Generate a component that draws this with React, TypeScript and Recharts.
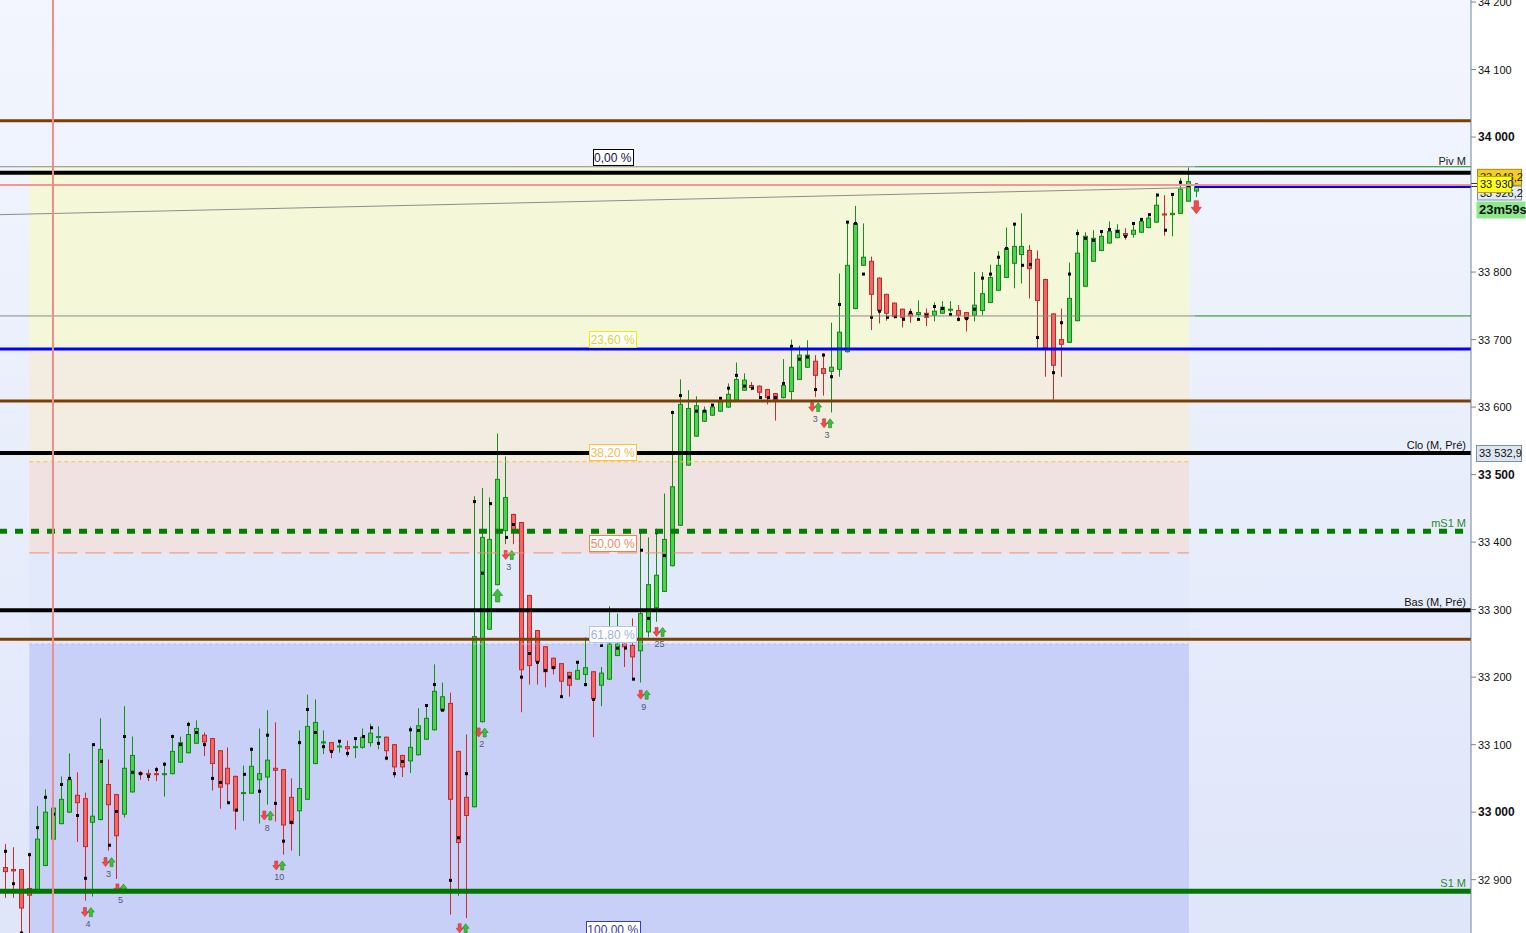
import React from 'react';
import {
  ComposedChart,
  Bar,
  Scatter,
  XAxis,
  YAxis,
  ReferenceLine,
  ReferenceArea,
  ReferenceDot,
} from 'recharts';

// bougies, index 0..150
const opens = [
  32918, 32915, 32915, 32887, 32885, 32921, 32960, 32983, 33000, 33025,
  33020, 32985, 32989, 33041, 33026, 32997, 33030, 33058, 33057, 33057,
  33056, 33057, 33074, 33088, 33102, 33114, 33109, 33091, 33065, 33053,
  33028, 33028, 33048, 33052, 33065, 33063, 33022, 33002, 33019, 33072,
  33103, 33103, 33097, 33097, 33096, 33096, 33103, 33111, 33111, 33100,
  33084, 33076, 33085, 33108, 33122, 33151, 33161, 33090, 33022, 33008,
  33134, 33271, 33337, 33417, 33441, 33429, 33321, 33269, 33245, 33228,
  33220, 33207, 33197, 33204, 33208, 33188, 33197, 33232, 33249, 33247,
  33239, 33267, 33303, 33327, 33365, 33425, 33514, 33557, 33579, 33588,
  33594, 33600, 33610, 33625, 33632, 33631, 33626, 33620, 33614, 33623,
  33641, 33659, 33668, 33657, 33653, 33656, 33682, 33746, 33810, 33816,
  33791, 33767, 33754, 33745, 33739, 33737, 33739, 33736, 33739, 33744,
  33743, 33740, 33736, 33743, 33755, 33773, 33792, 33813, 33826, 33832,
  33819, 33789, 33738, 33700, 33696, 33728, 33779, 33816, 33832, 33843,
  33851, 33857, 33856, 33859, 33866, 33874, 33886, 33885, 33887, 33905,
  33920,
];
const highs = [
  32953, 32948, 32916, 32940, 33009, 33034, 33033, 33053, 33087, 33059,
  33029, 33100, 33139, 33078, 33027, 33157, 33112, 33061, 33063, 33067,
  33074, 33115, 33112, 33134, 33136, 33118, 33110, 33092, 33096, 33054,
  33069, 33096, 33124, 33151, 33133, 33064, 33050, 33121, 33174, 33167,
  33121, 33104, 33105, 33106, 33111, 33124, 33131, 33127, 33112, 33101,
  33085, 33127, 33154, 33158, 33219, 33192, 33177, 33091, 33115, 33468,
  33480, 33466, 33561, 33527, 33442, 33430, 33322, 33270, 33246, 33229,
  33221, 33208, 33223, 33259, 33209, 33215, 33305, 33294, 33250, 33287,
  33415, 33407, 33420, 33472, 33595, 33641, 33625, 33616, 33601, 33601,
  33613, 33635, 33666, 33650, 33637, 33632, 33627, 33621, 33671, 33700,
  33691, 33699, 33677, 33680, 33725, 33798, 33875, 33898, 33872, 33823,
  33792, 33768, 33755, 33746, 33746, 33758, 33746, 33755, 33757, 33757,
  33751, 33741, 33800, 33800, 33811, 33831, 33866, 33871, 33887, 33840,
  33832, 33790, 33739, 33746, 33814, 33863, 33859, 33862, 33862, 33875,
  33871, 33865, 33872, 33880, 33887, 33917, 33914, 33917, 33939, 33955,
  33931,
];
const lows = [
  32873, 32873, 32803, 32815, 32884, 32920, 32959, 32982, 32999, 32956,
  32869, 32875, 32988, 32943, 32901, 32992, 33029, 33048, 33046, 33046,
  33023, 33056, 33073, 33087, 33101, 33083, 33032, 33005, 33012, 32974,
  32987, 33027, 32983, 33011, 32986, 32937, 32943, 32935, 33018, 33071,
  33086, 33080, 33088, 33082, 33080, 33094, 33097, 33093, 33077, 33051,
  33052, 33058, 33084, 33107, 33121, 33150, 32848, 32876, 32843, 33007,
  33133, 33270, 33336, 33397, 33397, 33148, 33189, 33189, 33185, 33204,
  33171, 33171, 33196, 33186, 33111, 33157, 33196, 33231, 33215, 33197,
  33192, 33259, 33282, 33326, 33364, 33424, 33513, 33556, 33578, 33587,
  33593, 33599, 33609, 33624, 33625, 33614, 33604, 33580, 33613, 33610,
  33640, 33658, 33615, 33617, 33592, 33645, 33681, 33745, 33809, 33714,
  33724, 33728, 33731, 33718, 33725, 33734, 33720, 33727, 33738, 33740,
  33727, 33712, 33727, 33736, 33754, 33772, 33791, 33776, 33783, 33761,
  33688, 33645, 33611, 33645, 33695, 33727, 33778, 33815, 33831, 33842,
  33850, 33848, 33851, 33858, 33865, 33873, 33854, 33853, 33886, 33904,
  33911,
];
const closes = [
  32912, 32913, 32858, 32877, 32960, 33000, 33006, 33019, 33048, 33014,
  32949, 32994, 33093, 33011, 32965, 33065, 33084, 33057, 33056, 33056,
  33057, 33090, 33103, 33115, 33124, 33104, 33072, 33037, 33042, 33002,
  33029, 33068, 33057, 33077, 33062, 32981, 32983, 33035, 33127, 33133,
  33104, 33091, 33098, 33094, 33097, 33111, 33117, 33112, 33091, 33067,
  33067, 33096, 33128, 33139, 33179, 33171, 33019, 32955, 32995, 33260,
  33407, 33404, 33493, 33466, 33417, 33211, 33217, 33223, 33208, 33213,
  33194, 33188, 33210, 33214, 33168, 33206, 33249, 33249, 33245, 33230,
  33294, 33337, 33351, 33404, 33482, 33604, 33598, 33602, 33595, 33600,
  33608, 33619, 33641, 33640, 33629, 33622, 33614, 33611, 33632, 33659,
  33677, 33677, 33647, 33650, 33659, 33711, 33810, 33872, 33822, 33767,
  33743, 33739, 33734, 33733, 33735, 33740, 33733, 33742, 33748, 33745,
  33736, 33731, 33751, 33768, 33792, 33810, 33835, 33838, 33838, 33805,
  33758, 33688, 33662, 33693, 33761, 33828, 33853, 33850, 33853, 33860,
  33862, 33854, 33862, 33875, 33880, 33899, 33885, 33887, 33923, 33934,
  33926,
];
// petits carrés noirs (null = pas de point)
const markers = [
  32942, 32894, 32821, 32937, 32977, 33022, 32997, 33041, 33050, 32995,
  32902, 33100, 33075, 32951, 33001, 33112, 33059, 33057, 33053, 33063,
  33071, 33112, 33100, 33130, 33118, 33100, 33050, 33044, 33014, 33003,
  33056, 33093, 33031, 33114, 33013, 32957, 32985, 33103, 33152, 33118,
  33097, 33090, 33105, 33087, 33109, 33112, 33125, 33102, 33080, 33057,
  33075, 33122, 33121, 33158, 33189, 33151, 32899, 32962, 33057, 33460,
  33354, 33457, null, 33407, 33426, 33200, 33235, 33222, 33210, 33214,
  33171, 33200, 33222, 33189, 33167, 33247, 33255, 33243, 33243, 33197,
  33388, 33287, 33414, 33380, 33592, 33617, null, 33594, 33594, 33603,
  33613, 33628, 33647, 33631, 33628, 33614, 33614, 33614, 33635, 33690,
  33671, 33674, 33626, 33677, 33645, 33752, 33874, 33872, 33797, 33733,
  33742, 33733, 33734, 33730, 33740, 33730, 33736, 33749, 33746, 33737,
  33730, 33731, 33745, 33791, 33797, 33822, 33835, 33871, 33810, 33811,
  33703, null, 33651, 33725, 33797, 33857, 33850, 33847, 33860, 33863,
  33860, 33853, 33872, 33878, 33885, 33914, 33862, 33915, 33933, 33927,
  33929,
];

// signaux (flèche rouge + flèche verte + compteur)
const signalIdx = [10.4, 13, 14.5, 33, 34.5, 57.6, 60, 63.4, 80.4, 82.4, 102, 103.5];
const signalPrice = [32852, 32926, 32887, 32995, 32921, 32828, 33118, 33381, 33174, 33267, 33600, 33576];
const signalCount = ['4', '3', '5', '8', '10', '', '2', '3', '9', '25', '3', '3'];

const bigArrowIdx = [62, 150];
const bigArrowPrice = [33321, 33896];
const bigArrowDir = ['up', 'down'];

// axe des prix
const yTicks = [32900, 33000, 33100, 33200, 33300, 33400, 33500, 33600, 33700, 33800, 34000, 34100, 34200];
const boldTicks = [33000, 33500, 34000];

// retracement de Fibonacci
const fibHigh = 33956;
const fibLow = 32812;
const fibRatios = [0, 0.236, 0.382, 0.5, 0.618, 1];
const fibLabels = ['0,00 %', '23,60 %', '38,20 %', '50,00 %', '61,80 %', '100,00 %'];
const fibFrom = 3.02;
const fibTo = 149.08;
const fibLabelAt = 76.5;

// niveaux horizontaux
const brownTop = 34024;
const pivM = 33956;
const highPrev = 33947;
const lastTick = 33929;
const lastClose = 33926;
const pivot2 = 33735;
const blueLevel = 33686;
const brownMid = 33609;
const closePrev = 33532;
const mS1 = 33416;
const lowPrev = 33299;
const brownLow = 33256;
const s1 = 32883;
const trendStart = { i: -0.67, p: 33885 };
const trendEnd = { i: 149.2, p: 33925 };
const lastBarEdge = 149.8;
const cursorIdx = 6;

const X_DOMAIN: [number, number] = [-0.67, 184.6];
const Y_DOMAIN: [number, number] = [32821, 34203];

const FONT = '"Liberation Sans", Arial, sans-serif';
const fibBorder = ['#000000', '#eeee00', '#ffbf3f', '#f5804f', '#b4c4f4', '#3a3ad0'];
const fibText = ['#10104a', '#d6d62e', '#f5bb4e', '#f08866', '#a2b0e0', '#3a3aa0'];
const fibFill = ['#f5f7d9', '#f3ede1', '#f1e2e2', '#e2e9fb', '#c9d0f8'];

const candles = opens.map((o, i) => ({ i, o, h: highs[i], l: lows[i], c: closes[i] }));
const markerData = markers
  .map((v, i) => ({ i, v }))
  .filter((d) => d.v !== null);
const signalData = signalIdx.map((i, k) => ({ i, v: signalPrice[k], n: signalCount[k] }));
const bigArrowData = bigArrowIdx.map((i, k) => ({ i, v: bigArrowPrice[k], dir: bigArrowDir[k] }));
const fibLevel = (r: number) => fibHigh - r * (fibHigh - fibLow);

const fmt = (v: number) => String(v).replace(/\B(?=(\d{3})+(?!\d))/g, ' ');

const Candle = (props: any) => {
  const { x, y, width, height, payload } = props;
  if (!payload || payload.h === payload.l) return null;
  const { o, h, l, c } = payload;
  const top = Math.min(y, y + height);
  const span = Math.abs(height);
  const py = (p: number) => top + ((h - p) / (h - l)) * span;
  const cx = Math.round(x + width / 2);
  const up = c >= o;
  const bodyTop = py(Math.max(o, c));
  const bodyH = Math.max(py(Math.min(o, c)) - bodyTop, 1);
  return (
    <g>
      <line
        x1={cx + 0.5}
        x2={cx + 0.5}
        y1={py(h)}
        y2={py(l)}
        stroke={up ? '#14901a' : '#d02a2a'}
        strokeWidth={1}
      />
      <rect
        x={cx - 1.5}
        y={bodyTop}
        width={4}
        height={bodyH}
        fill={up ? '#4fcf4f' : '#f26666'}
        stroke={up ? '#0f8a14' : '#c42828'}
        strokeWidth={1}
      />
    </g>
  );
};

const Marker = (props: any) => (
  <rect x={Math.round(props.cx) - 1} y={props.cy - 1.5} width={3} height={3} fill="#000" />
);

const arrowPath = (ax: number, ay: number, s: number, down: boolean) => {
  const d = down ? 1 : -1;
  return `M${ax - 1.5 * s},${ay - 4.5 * s * d} H${ax + 1.5 * s} V${ay} H${ax + 3.5 * s} L${ax},${ay + 4.5 * s * d} L${ax - 3.5 * s},${ay} H${ax - 1.5 * s} Z`;
};

const Signal = (props: any) => {
  const { cx, cy, payload } = props;
  return (
    <g>
      <path d={arrowPath(cx - 3, cy, 1, true)} fill="#f04a4a" stroke="#c83030" strokeWidth={0.6} />
      <path d={arrowPath(cx + 3, cy, 1, false)} fill="#3cc03c" stroke="#1a8a1a" strokeWidth={0.6} />
      <text x={cx} y={cy + 15} textAnchor="middle" fontSize={9} fill="#555577" fontFamily={FONT}>
        {payload.n}
      </text>
    </g>
  );
};

const BigArrow = (props: any) => {
  const { cx, cy, payload } = props;
  const down = payload.dir === 'down';
  return (
    <path
      d={arrowPath(cx, cy, 1.45, down)}
      fill={down ? '#f04a4a' : '#3cc03c'}
      stroke={down ? '#c83030' : '#1a8a1a'}
      strokeWidth={0.6}
    />
  );
};

const PriceTick = (props: any) => {
  const { x, y, payload } = props;
  const bold = boldTicks.includes(payload.value);
  return (
    <text
      x={x}
      y={y}
      dy={4}
      textAnchor="start"
      fontSize={bold ? 12 : 11}
      fontWeight={bold ? 700 : 400}
      fill="#111"
      fontFamily={FONT}
    >
      {fmt(payload.value)}
    </text>
  );
};

// texte au-dessus d'une ligne, calé à droite
const lineText = (text: string, color: string, lift: number) => (props: any) => {
  const vb = props.viewBox;
  return (
    <text x={vb.x + vb.width - 5} y={vb.y - lift} textAnchor="end" fontSize={11} fill={color} fontFamily={FONT}>
      {text}
    </text>
  );
};

const tagBox = (
  x: number,
  y: number,
  w: number,
  h: number,
  text: string,
  fill: string,
  stroke: string,
  bold = false,
) => (
  <g>
    <rect x={x + 0.5} y={y + 0.5} width={w} height={h} fill={fill} stroke={stroke} strokeWidth={stroke === 'none' ? 0 : 1} />
    <text
      x={x + 3}
      y={y + h / 2 + 4.5}
      fontSize={bold ? 13 : 11}
      fontWeight={bold ? 700 : 400}
      fill="#111"
      fontFamily={FONT}
    >
      {text}
    </text>
  </g>
);

const FibTag = (props: any) => {
  const { cx, cy, k } = props;
  const text = fibLabels[k];
  const w = text.length * 7 - 2;
  return (
    <g>
      <rect x={Math.round(cx - w / 2) + 0.5} y={Math.round(cy) - 17.5} width={w} height={16} fill="#fff" stroke={fibBorder[k]} />
      <text x={cx} y={cy - 5} textAnchor="middle" fontSize={12} fill={fibText[k]} fontFamily={FONT}>
        {text}
      </text>
    </g>
  );
};

export default function App() {
  return (
    <div
      style={{
        position: 'fixed',
        left: 0,
        top: 0,
        width: 1526,
        height: 933,
        background:
          'linear-gradient(to right, rgba(255,255,255,0) 1471px, #ffffff 1471px), linear-gradient(to bottom, #f3f6fe, #dfe6f9)',
        fontFamily: FONT,
      }}
    >
      <ComposedChart width={1526} height={933} data={candles} margin={{ top: 0, right: 0, left: 0, bottom: 0 }}>
        <XAxis dataKey="i" type="number" domain={X_DOMAIN} allowDataOverflow hide />
        <YAxis
          orientation="right"
          width={55}
          domain={Y_DOMAIN}
          allowDataOverflow
          ticks={yTicks}
          interval={0}
          tickSize={5}
          tick={<PriceTick />}
          axisLine={{ stroke: '#75869a' }}
          tickLine={{ stroke: '#75869a' }}
        />

        {/* zones de Fibonacci */}
        {fibFill.map((f, k) => (
          <ReferenceArea
            key={`z${k}`}
            x1={fibFrom}
            x2={fibTo}
            y1={fibLevel(fibRatios[k])}
            y2={fibLevel(fibRatios[k + 1])}
            fill={f}
            fillOpacity={1}
            stroke="none"
            ifOverflow="visible"
            zIndex={50}
          />
        ))}

        {/* bougies */}
        <Bar
          dataKey={(d: any) => [d.l, d.h]}
          shape={(p: any) => <Candle {...p} />}
          barSize={6}
          isAnimationActive={false}
          zIndex={300}
        />
        <Scatter data={markerData} dataKey="v" shape={(p: any) => <Marker {...p} />} isAnimationActive={false} zIndex={310} />
        <Scatter data={signalData} dataKey="v" shape={(p: any) => <Signal {...p} />} isAnimationActive={false} zIndex={320} />
        <Scatter data={bigArrowData} dataKey="v" shape={(p: any) => <BigArrow {...p} />} isAnimationActive={false} zIndex={320} />

        {/* lignes pointillées de Fibonacci */}
        <ReferenceLine
          segment={[{ x: fibFrom, y: fibLevel(0.382) }, { x: fibTo, y: fibLevel(0.382) }]}
          stroke="#ffbf3f"
          strokeDasharray="4 3"
          ifOverflow="visible"
          zIndex={440}
        />
        <ReferenceLine
          segment={[{ x: fibFrom, y: fibLevel(0.5) }, { x: fibTo, y: fibLevel(0.5) }]}
          stroke="#ea9272"
          strokeDasharray="20 8"
          ifOverflow="visible"
          zIndex={440}
        />
        <ReferenceLine
          segment={[{ x: fibFrom, y: fibLevel(0.618) }, { x: fibTo, y: fibLevel(0.618) }]}
          stroke="#a9bdf2"
          strokeDasharray="3 3"
          ifOverflow="visible"
          zIndex={440}
        />

        {/* niveaux */}
        <ReferenceLine y={brownTop} stroke="#7b3f00" strokeWidth={3} ifOverflow="visible" zIndex={450} />
        <ReferenceLine
          segment={[{ x: X_DOMAIN[0], y: pivM }, { x: lastBarEdge, y: pivM }]}
          stroke="#8a8a8a"
          strokeWidth={1}
          ifOverflow="visible"
          zIndex={450}
        />
        <ReferenceLine
          segment={[{ x: lastBarEdge, y: pivM }, { x: X_DOMAIN[1], y: pivM }]}
          stroke="#1a8a1a"
          strokeWidth={1}
          ifOverflow="visible"
          zIndex={450}
          label={lineText('Piv M', '#222', 2)}
        />
        <ReferenceLine
          segment={[{ x: trendStart.i, y: trendStart.p }, { x: trendEnd.i, y: trendEnd.p }]}
          stroke="#8c8c8c"
          strokeWidth={1}
          ifOverflow="visible"
          zIndex={450}
        />
        <ReferenceLine
          y={highPrev}
          stroke="#000"
          strokeWidth={4}
          ifOverflow="visible"
          zIndex={450}
          label={(p: any) => tagBox(p.viewBox.x + p.viewBox.width + 6, p.viewBox.y - 4, 44, 16, '33 948,2', '#f5cf1a', '#a88a00')}
        />
        <ReferenceLine
          segment={[{ x: lastBarEdge, y: lastClose }, { x: X_DOMAIN[1], y: lastClose }]}
          stroke="#0000ff"
          strokeWidth={2}
          ifOverflow="visible"
          zIndex={451}
          label={(p: any) => (
            <g>
              {tagBox(p.viewBox.x + p.viewBox.width + 6, p.viewBox.y - 1.5, 44, 14, '33 926,2', '#e3eaf7', '#7f8fa3')}
              {tagBox(p.viewBox.x + p.viewBox.width + 5, p.viewBox.y + 14, 49, 17, '23m59s', '#8de88d', 'none', true)}
            </g>
          )}
        />
        <ReferenceLine
          y={lastTick}
          stroke="#f39595"
          strokeWidth={2}
          ifOverflow="visible"
          zIndex={452}
          label={(p: any) => (
            <g>
              <line x1={p.viewBox.x + p.viewBox.width} x2={p.viewBox.x + p.viewBox.width + 6} y1={p.viewBox.y - 1.5} y2={p.viewBox.y - 1.5} stroke="#333" />
              <line x1={p.viewBox.x + p.viewBox.width} x2={p.viewBox.x + p.viewBox.width + 6} y1={p.viewBox.y + 1.5} y2={p.viewBox.y + 1.5} stroke="#333" />
              {tagBox(p.viewBox.x + p.viewBox.width + 6, p.viewBox.y - 9, 34, 16, '33 930', '#ffff22', '#b8a600')}
            </g>
          )}
        />
        <ReferenceLine
          segment={[{ x: X_DOMAIN[0], y: pivot2 }, { x: lastBarEdge, y: pivot2 }]}
          stroke="#8a8a8a"
          strokeWidth={1}
          ifOverflow="visible"
          zIndex={450}
        />
        <ReferenceLine
          segment={[{ x: lastBarEdge, y: pivot2 }, { x: X_DOMAIN[1], y: pivot2 }]}
          stroke="#1a8a1a"
          strokeWidth={1}
          ifOverflow="visible"
          zIndex={450}
        />
        <ReferenceLine y={blueLevel} stroke="#0000ff" strokeWidth={3} ifOverflow="visible" zIndex={450} />
        <ReferenceLine y={brownMid} stroke="#7b3f00" strokeWidth={3} ifOverflow="visible" zIndex={450} />
        <ReferenceLine
          y={closePrev}
          stroke="#000"
          strokeWidth={4}
          ifOverflow="visible"
          zIndex={450}
          label={(p: any) => (
            <g>
              {lineText('Clo (M, Pré)', '#111', 4)(p)}
              {tagBox(p.viewBox.x + p.viewBox.width + 5, p.viewBox.y - 8, 45, 16, '33 532,9', '#dde5f3', '#7f8fa3')}
            </g>
          )}
        />
        <ReferenceLine
          y={mS1}
          stroke="#007f00"
          strokeWidth={5}
          strokeDasharray="8 8"
          strokeDashoffset={8}
          ifOverflow="visible"
          zIndex={450}
          label={lineText('mS1 M', '#2a8a2a', 4)}
        />
        <ReferenceLine
          y={lowPrev}
          stroke="#000"
          strokeWidth={4}
          ifOverflow="visible"
          zIndex={450}
          label={lineText('Bas (M, Pré)', '#111', 4)}
        />
        <ReferenceLine y={brownLow} stroke="#7b3f00" strokeWidth={3} ifOverflow="visible" zIndex={450} />
        <ReferenceLine
          y={s1}
          stroke="#007800"
          strokeWidth={5}
          ifOverflow="visible"
          zIndex={450}
          label={lineText('S1 M', '#2a8a2a', 4)}
        />

        {/* curseur vertical */}
        <ReferenceLine x={cursorIdx} stroke="#f08c8c" strokeWidth={2} ifOverflow="visible" zIndex={460} />

        {/* étiquettes de Fibonacci */}
        {fibRatios.map((r, k) => (
          <ReferenceDot
            key={`f${k}`}
            x={fibLabelAt}
            y={fibLevel(r)}
            r={0}
            ifOverflow="visible"
            zIndex={700}
            shape={(p: any) => <FibTag {...p} k={k} />}
          />
        ))}
      </ComposedChart>
    </div>
  );
}
